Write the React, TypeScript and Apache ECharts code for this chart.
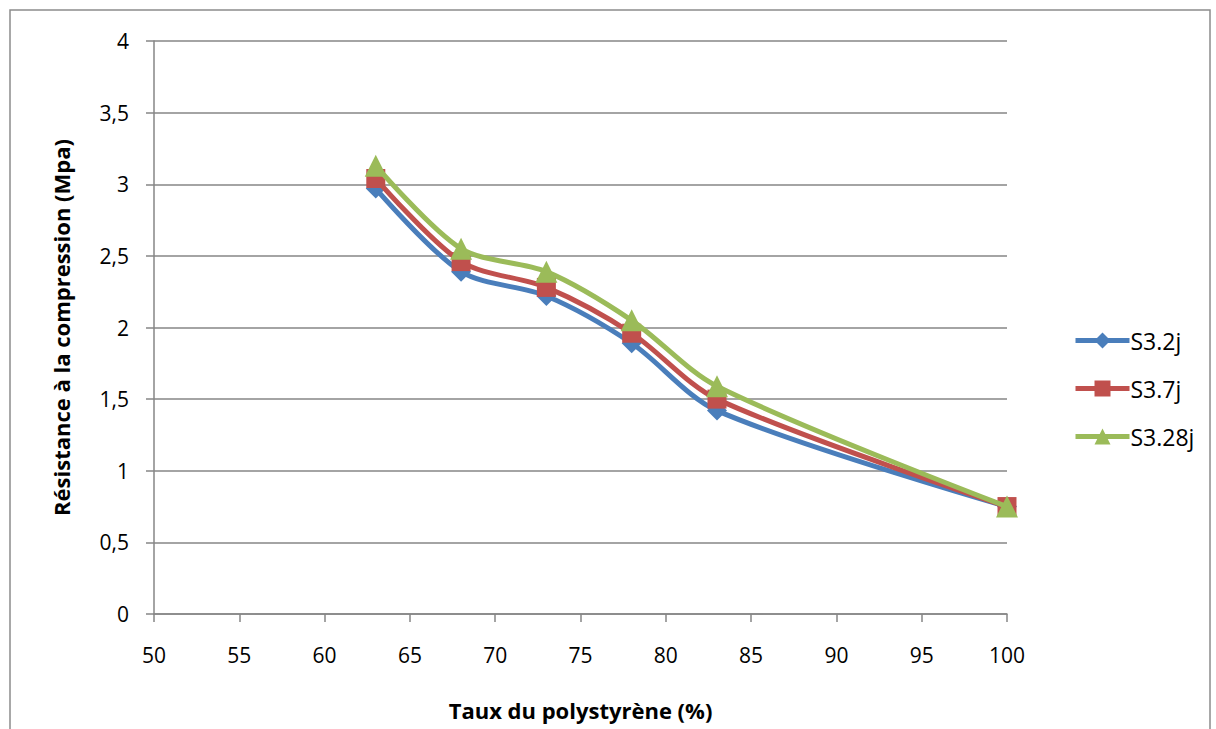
import React, { useEffect, useRef } from "react";
import * as echarts from "echarts";

const xValues = [63, 68, 73, 78, 83, 100];
const s32j = [2.97, 2.39, 2.22, 1.89, 1.42, 0.75];
const s37j = [3.04, 2.46, 2.28, 1.96, 1.5, 0.75];
const s328j = [3.13, 2.55, 2.39, 2.05, 1.59, 0.75];
const seriesNames = ["S3.2j", "S3.7j", "S3.28j"];
const colors = ["#4A7EBB", "#C0504D", "#9BBB59"];
const symbols = ["diamond", "rect", "triangle"];
const symbolSizes = [20, 19, 22];

const FONT = "'Open Sans', 'Noto Sans', sans-serif";

export default function App() {
  const ref = useRef<HTMLDivElement>(null);
  useEffect(() => {
    if (!ref.current) return;
    const chart = echarts.init(ref.current, null, { renderer: "svg" });
    const seriesData = [s32j, s37j, s328j];
    chart.setOption({
      animation: false,
      backgroundColor: "#ffffff",
      textStyle: { fontFamily: FONT },
      graphic: [
        {
          type: "rect",
          shape: { x: 10, y: 10, width: 1200, height: 730 },
          style: { fill: "none", stroke: "#8c8c8c", lineWidth: 1.5 },
          silent: true,
        },
      ],
      grid: { left: 154, right: 209, top: 41, bottom: 115, containLabel: false },
      legend: {
        orient: "vertical",
        left: 1068,
        top: 324,
        itemGap: 25,
        itemWidth: 54,
        itemHeight: 20,
        textStyle: { fontSize: 23, color: "#000", fontFamily: FONT, padding: [0, 0, 0, -4] },
        lineStyle: { width: 5 },
        data: seriesNames,
      },
      xAxis: {
        type: "value",
        min: 50,
        max: 100,
        interval: 5,
        name: "Taux du polystyrène (%)",
        nameLocation: "middle",
        nameGap: 85,
        nameTextStyle: { fontSize: 22, fontWeight: "bold", color: "#000", fontFamily: FONT },
        axisLine: { show: true, lineStyle: { color: "#868686", width: 1.5 } },
        axisTick: { show: true, length: 8, lineStyle: { color: "#868686", width: 1.5 } },
        axisLabel: { fontSize: 21, color: "#000", margin: 30, fontFamily: FONT },
        splitLine: { show: false },
      },
      yAxis: {
        type: "value",
        min: 0,
        max: 4,
        interval: 0.5,
        name: "Résistance à la compression (Mpa)",
        nameLocation: "middle",
        nameGap: 82,
        nameRotate: 90,
        nameTextStyle: { fontSize: 22, fontWeight: "bold", color: "#000", fontFamily: FONT },
        axisLine: { show: true, lineStyle: { color: "#868686", width: 1.5 } },
        axisTick: { show: true, length: 8, inside: false, lineStyle: { color: "#868686", width: 1.5 } },
        axisLabel: {
          fontSize: 21,
          color: "#000",
          margin: 25,
          fontFamily: FONT,
          formatter: (v: number) => String(v).replace(".", ","),
        },
        splitLine: { show: true, lineStyle: { color: "#868686", width: 1.5 } },
      },
      series: seriesNames.map((name, i) => ({
        name,
        type: "line",
        smooth: 0.3,
        data: xValues.map((x, j) => [x, seriesData[i][j]]),
        symbol: symbols[i],
        symbolSize: symbolSizes[i],
        lineStyle: { width: 5, color: colors[i] },
        itemStyle: { color: colors[i] },
        z: 2 + i,
      })),
    });
    return () => chart.dispose();
  }, []);
  return (
    <div
      ref={ref}
      style={{ position: "fixed", left: 0, top: 0, width: 1216, height: 729 }}
    />
  );
}
